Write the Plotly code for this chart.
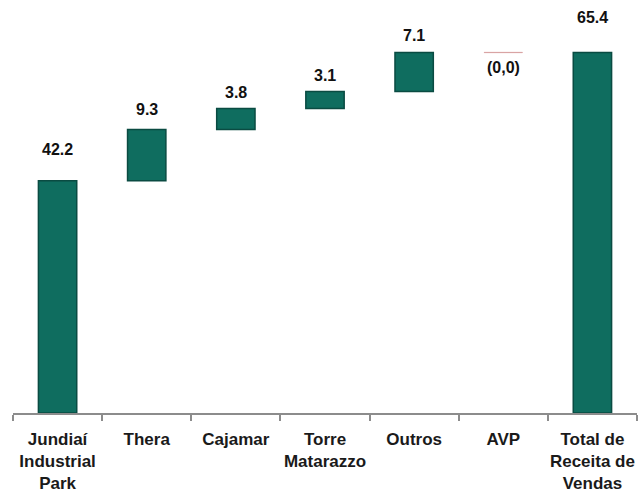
import plotly.graph_objects as go

categories = ["Jundiaí", "Thera", "Cajamar", "Torre Matarazzo",
              "Outros", "AVP", "Total de Receita de Vendas"]
tick_labels = ["Jundiaí<br>Industrial<br>Park", "Thera", "Cajamar", "Torre<br>Matarazzo",
               "Outros", "AVP", "Total de<br>Receita de<br>Vendas"]
values = [42.2, 9.3, 3.8, 3.1, 7.1, -0.04, 0]
measures = ["relative", "relative", "relative", "relative", "relative", "relative", "total"]
labels = ["42.2", "9.3", "3.8", "3.1", "7.1", "(0,0)", "65.4"]

# label offsets in pixels from the top of each bar (style only)
label_shift = [31, 20, 16, 16, 17, -15, 35]

FONT = "Liberation Sans, Arial, sans-serif"

fig = go.Figure()
fig.add_trace(go.Waterfall(
    x=categories,
    y=values,
    measure=measures,
    width=0.43,
    increasing=dict(marker=dict(color="#0f6d5f", line=dict(color="#0a4b42", width=1.5))),
    totals=dict(marker=dict(color="#0f6d5f", line=dict(color="#0a4b42", width=1.5))),
    decreasing=dict(marker=dict(color="#e0a8a8", line=dict(color="#d9a3a3", width=1))),
    connector=dict(visible=False),
    textinfo="none",
    hoverinfo="skip",
))

# compute top of each bar from the data
tops = []
run = 0.0
for v, m in zip(values, measures):
    if m == "total":
        tops.append(run)
    else:
        prev = run
        run += v
        tops.append(max(prev, run))

for cat, t, lab, s in zip(categories, tops, labels, label_shift):
    fig.add_annotation(
        x=cat, y=t, text=lab, showarrow=False, yanchor="middle", yshift=s,
        font=dict(family=FONT, size=16, color="#111111", weight="bold"),
    )

fig.update_layout(
    width=640, height=497,
    margin=dict(l=13, r=3, t=10, b=84),
    paper_bgcolor="white", plot_bgcolor="white",
    showlegend=False,
    xaxis=dict(
        type="category",
        tickmode="array", tickvals=categories, ticktext=tick_labels,
        tickangle=0, automargin=False,
        showline=True, linecolor="#8c8c8c", linewidth=1.5,
        ticks="outside", tickson="boundaries", ticklen=6, tickcolor="#8c8c8c", tickwidth=1.5,
        ticklabelstandoff=10,
        showgrid=False, zeroline=False,
        tickfont=dict(family=FONT, size=17, color="#1a1a1a", weight="bold"),
    ),
    yaxis=dict(range=[0, 73.2], visible=False, showgrid=False, zeroline=False),
)

fig.write_html("out.html")
